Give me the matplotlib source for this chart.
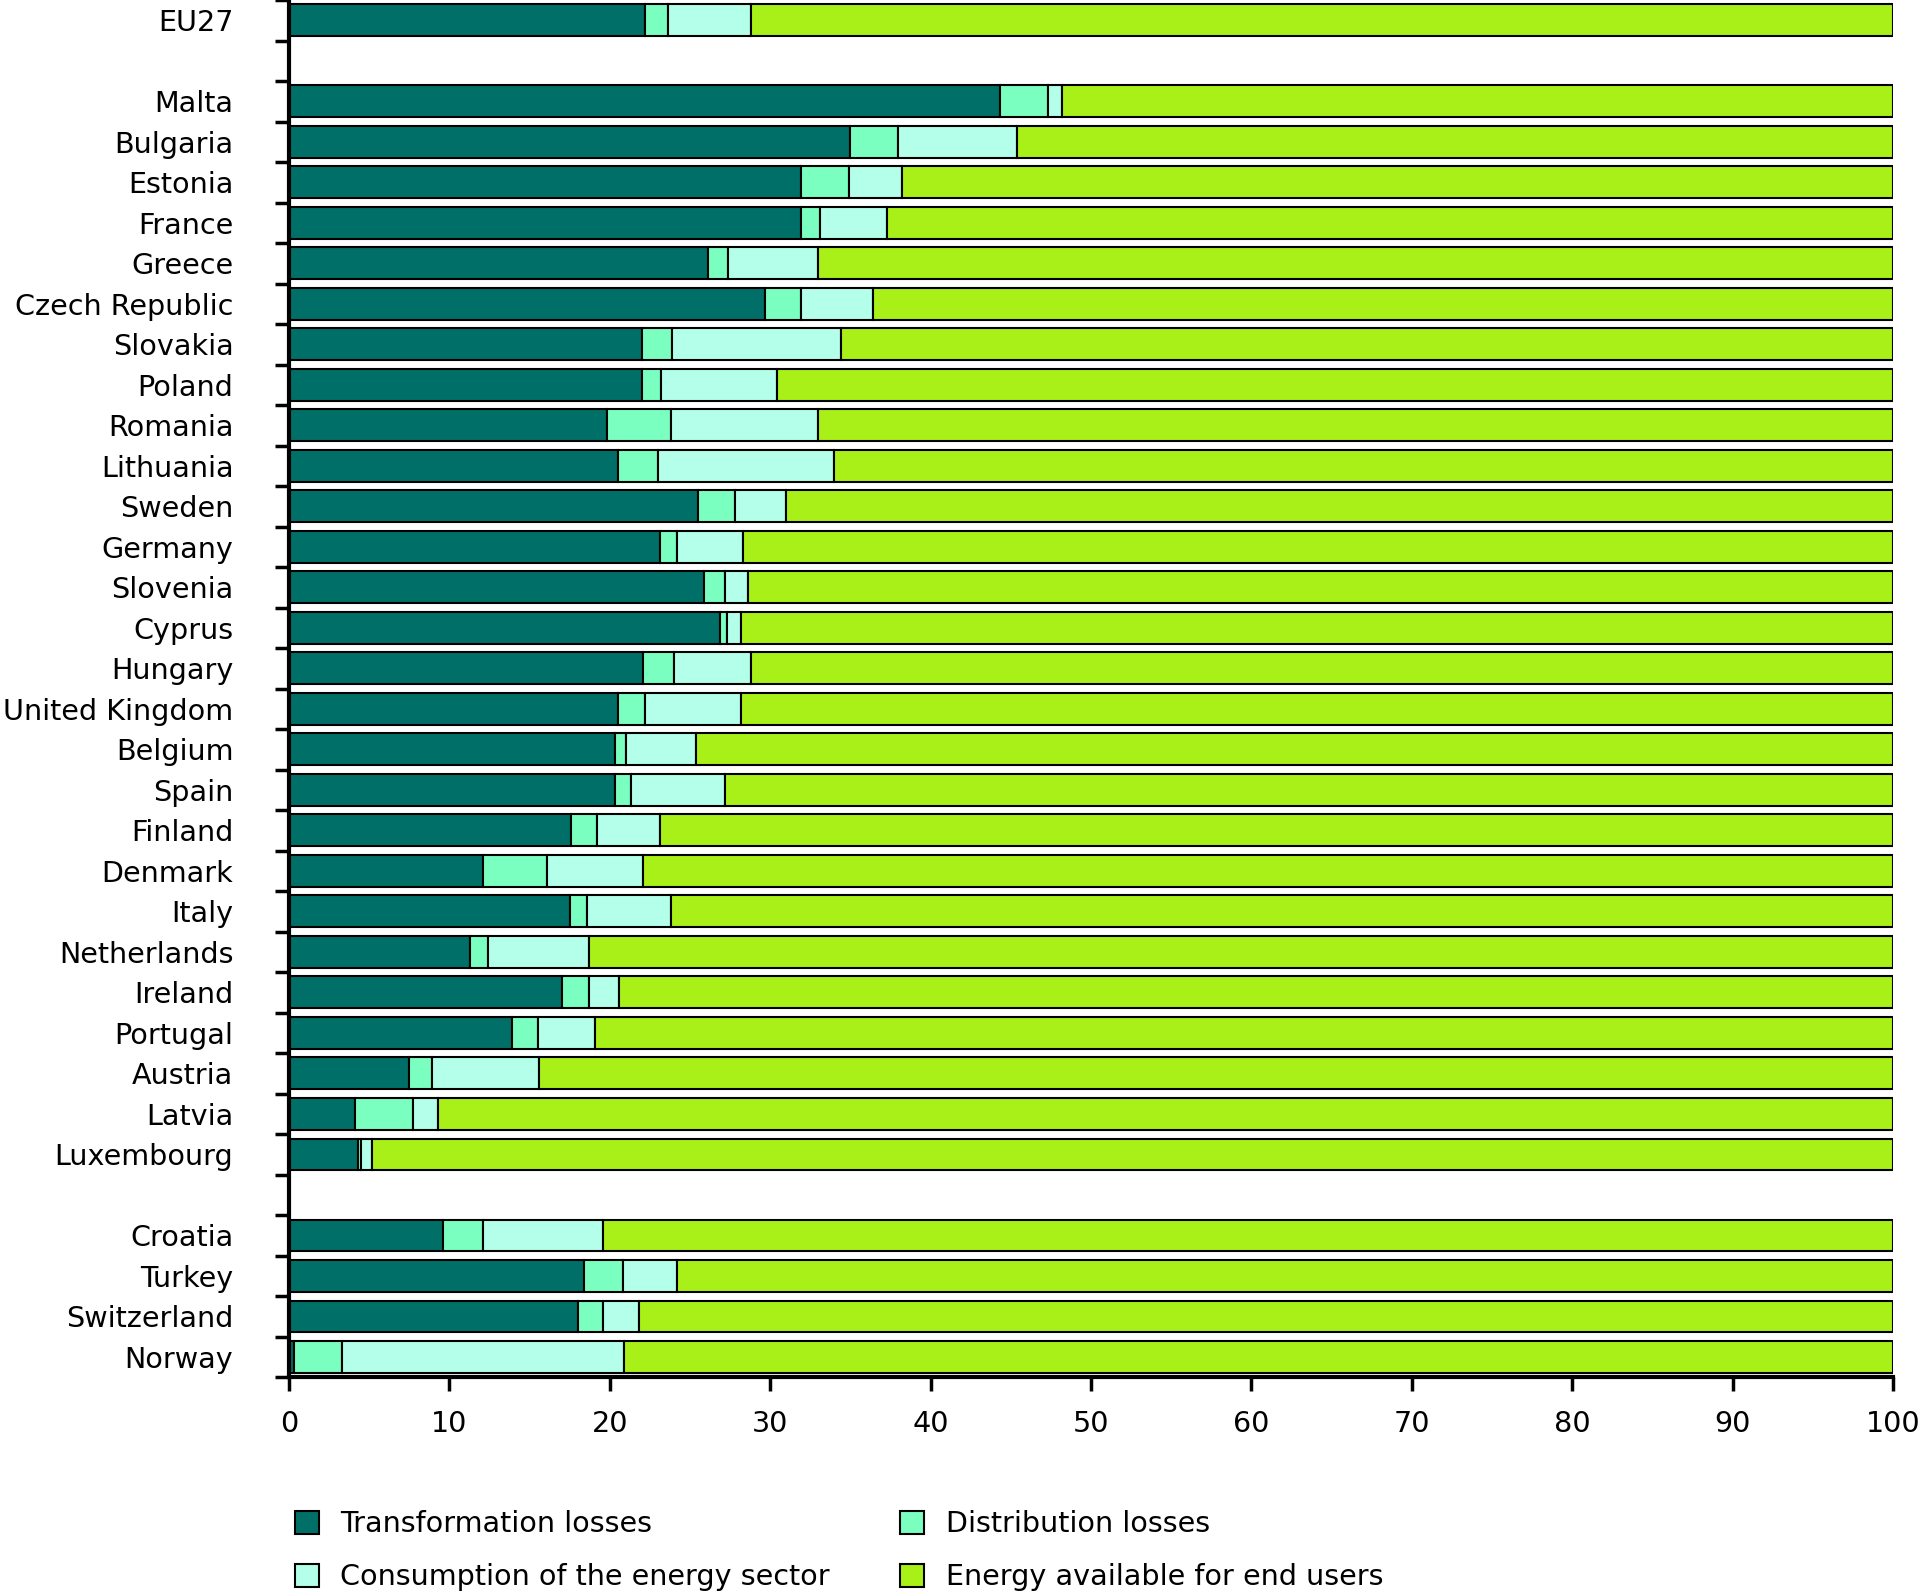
import numpy as np
import matplotlib
matplotlib.use("Agg")
import matplotlib.pyplot as plt

# groups, top to bottom (EU27 / member states / other countries)
eu_total = ['EU27']
members = ['Malta', 'Bulgaria', 'Estonia', 'France', 'Greece', 'Czech Republic',
           'Slovakia', 'Poland', 'Romania', 'Lithuania', 'Sweden', 'Germany',
           'Slovenia', 'Cyprus', 'Hungary', 'United Kingdom', 'Belgium', 'Spain',
           'Finland', 'Denmark', 'Italy', 'Netherlands', 'Ireland', 'Portugal',
           'Austria', 'Latvia', 'Luxembourg']
others = ['Croatia', 'Turkey', 'Switzerland', 'Norway']

# shares in % (same order as above: EU27, members..., others...)
transformation = [22.2,
                  44.3, 35.0, 31.9, 31.9, 26.1, 29.7, 22.0, 22.0, 19.8, 20.5, 25.5, 23.1,
                  25.9, 26.9, 22.1, 20.5, 20.3, 20.3, 17.6, 12.1, 17.5, 11.3, 17.0, 13.9,
                  7.5, 4.1, 4.3,
                  9.6, 18.4, 18.0, 0.3]
distribution = [1.4,
                3.0, 3.0, 3.0, 1.2, 1.3, 2.2, 1.9, 1.2, 4.0, 2.5, 2.3, 1.1,
                1.3, 0.4, 1.9, 1.7, 0.7, 1.0, 1.6, 4.0, 1.1, 1.1, 1.7, 1.6,
                1.4, 3.6, 0.2,
                2.5, 2.4, 1.6, 3.0]
consumption = [5.2,
               0.9, 7.4, 3.3, 4.2, 5.6, 4.5, 10.5, 7.2, 9.2, 11.0, 3.2, 4.1,
               1.4, 0.9, 4.8, 6.0, 4.4, 5.9, 3.9, 6.0, 5.2, 6.3, 1.9, 3.6,
               6.7, 1.6, 0.7,
               7.5, 3.4, 2.2, 17.6]
end_users = [71.2,
             51.8, 54.6, 61.8, 62.7, 67.0, 63.6, 65.6, 69.6, 67.0, 66.0, 69.0, 71.7,
             71.4, 71.8, 71.2, 71.8, 74.6, 72.8, 76.9, 77.9, 76.2, 81.3, 79.4, 80.9,
             84.4, 90.7, 94.8,
             80.4, 75.8, 78.2, 79.1]

series_names = ['Transformation losses', 'Distribution losses',
                'Consumption of the energy sector', 'Energy available for end users']
colors = ['#006f68', '#7affc0', '#b3ffe9', '#a8f018']

labels = eu_total + members + others
# one empty slot between groups
pos = np.concatenate([np.arange(len(eu_total)),
                      np.arange(len(members)) + len(eu_total) + 1,
                      np.arange(len(others)) + len(eu_total) + len(members) + 2])
n_slots = len(eu_total) + len(members) + len(others) + 2

fs = 20.6
plt.rcParams['font.family'] = ['DejaVu Sans']
fig = plt.figure(figsize=(19.19, 15.94), dpi=100)
ax = fig.add_axes([0.1506, 0.1361, 0.8358, 0.8639])

left = np.zeros(len(labels))
for vals, name, c in zip([transformation, distribution, consumption, end_users],
                         series_names, colors):
    vals = np.array(vals)
    ax.barh(pos, vals, left=left, height=0.78, color=c, edgecolor='black',
            linewidth=1.5, label=name)
    left += vals

ax.set_xlim(0, 100)
ax.set_ylim(n_slots - 0.5, -0.5)
ax.set_xticks(np.arange(0, 101, 10))
ax.set_yticks(pos)
ax.set_yticklabels(labels)
ax.set_yticks(np.arange(-0.5, n_slots, 1), minor=True)
ax.tick_params(axis='y', which='major', length=0, pad=40, labelsize=fs)
ax.tick_params(axis='y', which='minor', length=10, width=2.5, direction='out')
ax.tick_params(axis='x', length=10, width=2.5, pad=14, labelsize=fs)
for s in ['top', 'right']:
    ax.spines[s].set_visible(False)
ax.spines['left'].set_linewidth(3)
ax.spines['bottom'].set_linewidth(3)

handles, lbls = ax.get_legend_handles_labels()
order = [0, 2, 1, 3]
leg = fig.legend([handles[i] for i in order], [lbls[i] for i in order],
                 loc='lower left', bbox_to_anchor=(0.152, 0.0), ncol=2,
                 frameon=False, fontsize=fs, handlelength=0.85, handleheight=0.85,
                 handletextpad=0.75, columnspacing=2.45, labelspacing=0.87,
                 borderpad=0.1, borderaxespad=0.0)

fig.savefig('out.png', dpi=100)
